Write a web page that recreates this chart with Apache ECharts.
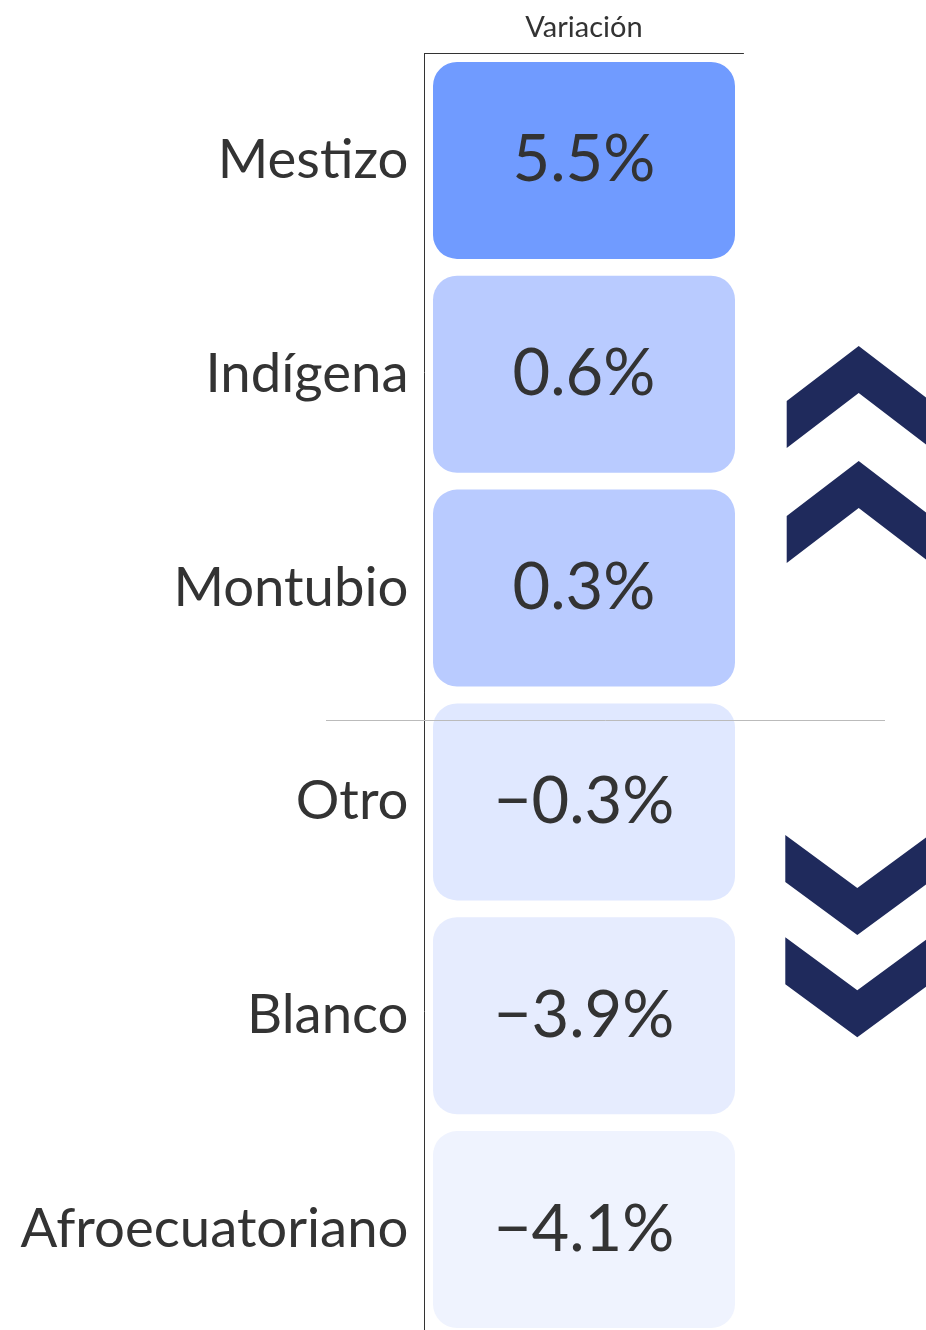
<!DOCTYPE html>
<html>
<head>
<meta charset="utf-8">
<script src="https://cdn.jsdelivr.net/npm/echarts@6/dist/echarts.min.js"></script>
<style>
    html, body {margin: 0; padding: 0; background: #fff;}
    #chart {width: 926px; height: 1330px;}
</style>
</head>
<body>
<div id="chart"></div>
<script>
// 数据
var columns = ['Variación'];
var groups = ['Mestizo', 'Indígena', 'Montubio', 'Otro', 'Blanco', 'Afroecuatoriano'];
var variation = [5.5, 0.6, 0.3, -0.3, -3.9, -4.1];

var cells = variation.map(function (v, i) {
    return [0, i, v];
});

function fmt(v) {
    var s = Math.abs(v).toFixed(1) + '%';
    return v < 0 ? '\u2212' + s : s;
}

// 箭头（装饰）
function chevron(cx, top, up) {
    var w = 72, h = 55, t = 47;
    var pts = up
        ? [[cx - w, top + h], [cx, top], [cx + w, top + h], [cx + w, top + h + t], [cx, top + t], [cx - w, top + h + t]]
        : [[cx - w, top], [cx, top + h - 2], [cx + w, top], [cx + w, top + t], [cx, top + h + t - 2], [cx - w, top + t]];
    return {
        type: 'polygon',
        shape: {points: pts},
        style: {fill: '#1f2a5c'},
        silent: true
    };
}

var myChart = echarts.init(document.getElementById('chart'));
var option = {
    backgroundColor: '#fff',
    animation: false,
    grid: {left: 424.5, top: 53.5, width: 319, height: 1283, outerBoundsMode: 'none', containLabel: false},
    xAxis: {
        type: 'category',
        position: 'top',
        data: columns,
        axisLine: {show: true, lineStyle: {color: '#333', width: 1}},
        axisTick: {show: false},
        axisLabel: {color: '#333', fontSize: 29, fontFamily: 'Lato', margin: 11},
        splitLine: {show: false}
    },
    yAxis: {
        type: 'category',
        inverse: true,
        data: groups,
        axisLine: {show: true, lineStyle: {color: '#333', width: 1}},
        axisTick: {show: false},
        axisLabel: {color: '#333', fontSize: 54.5, fontFamily: 'Lato', margin: 16},
        splitLine: {show: false}
    },
    visualMap: {
        show: false,
        type: 'piecewise',
        dimension: 2,
        pieces: [
            {gte: 5, color: '#709bff'},
            {gte: 0, lt: 5, color: '#b9cbff'},
            {gte: -1, lt: 0, color: '#e0e8ff'},
            {gte: -4, lt: -1, color: '#e6ecfe'},
            {lt: -4, color: '#eff3fe'}
        ]
    },
    series: [{
        type: 'custom',
        data: cells,
        renderItem: function (params, api) {
            var c = api.coord([api.value(0), api.value(1)]);
            var s = api.size([1, 1]);
            var padX = 8.5, padY = 8.4;
            return {
                type: 'rect',
                shape: {
                    x: c[0] - s[0] / 2 + padX,
                    y: c[1] - s[1] / 2 + padY,
                    width: s[0] - padX * 2,
                    height: s[1] - padY * 2,
                    r: 24
                },
                style: {
                    fill: api.visual('color'),
                    text: fmt(api.value(2)),
                    textFill: '#333',
                    fontSize: 65,
                    fontFamily: 'Lato',
                    textPosition: 'inside'
                }
            };
        }
    }],
    graphic: [
        {
            type: 'line',
            shape: {x1: 326, y1: 720.5, x2: 885, y2: 720.5},
            style: {stroke: '#bbb', lineWidth: 1},
            z: 10,
            silent: true
        },
        chevron(858.7, 346, true),
        chevron(858.7, 461, true),
        chevron(857.3, 835, false),
        chevron(857.3, 937.3, false)
    ]
};
myChart.setOption(option);
</script>
</body>
</html>
